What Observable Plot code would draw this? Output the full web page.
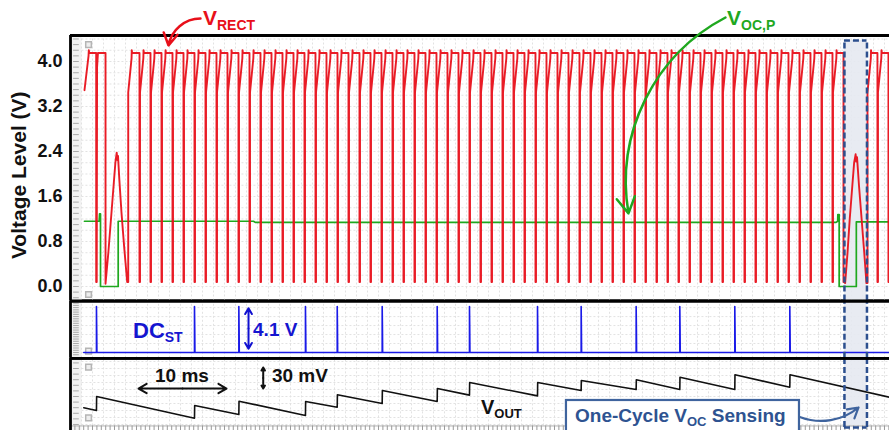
<!DOCTYPE html>
<html><head><meta charset="utf-8">
<script src="https://cdn.jsdelivr.net/npm/d3@7"></script>
<script src="https://cdn.jsdelivr.net/npm/@observablehq/plot@0.6"></script>
<style>
body{margin:0;background:#fff;}
#chart{position:relative;width:889px;height:430px;overflow:hidden;background:#fff;}
#chart svg{position:absolute;left:0;overflow:visible;}
</style></head><body><div id="chart"></div>
<script>
// ---------------- DATA (time in ms, voltages in V, V_OUT in mV) ----------------
const X_MAX = 93.07;
const yTicks = [0.0, 0.8, 1.6, 2.4, 3.2, 4.0];

// V_RECT: leading part, humps, regular drop instants, pulse top shape
const vrectLead = [[1.59,3.49],[2.05,4.10],[2.08,4.20],[2.14,4.15],[2.92,4.15],[2.92,0.08],[2.98,0.08],[3.02,3.90],[3.12,4.15],[3.98,4.15],[3.98,0.05]];
const vrectHump1 = [[4.30,0.60],[4.60,1.20],[4.90,1.80],[5.10,2.20],[5.25,2.38],[5.33,2.25],[5.40,2.32],[5.55,1.90],[5.80,1.30],[6.10,0.70],[6.44,0.08],[6.56,0.08]];
const vrectDrops1 = [7.84,9.09,10.34,11.59,12.84,14.09,15.34,16.59,17.84,19.09,20.34,21.59,22.84,24.09,25.34,26.59,27.84,29.09,30.34,31.59,32.84,34.09,35.34,36.59,37.84,39.09,40.34,41.59,42.84,44.09,45.34,46.59,47.84,49.09,50.34,51.59,52.84,54.09,55.34,56.59,57.84,59.09,60.34,61.59,62.84,64.09,65.34,66.59,67.84,69.09,70.34,71.59,72.84,74.09,75.34,76.59,77.84,79.09,80.34,81.59,82.84,84.09,85.34,86.59,87.84];
const vrectHump2 = [[88.03,0.06],[88.30,0.60],[88.55,1.20],[88.85,1.80],[89.05,2.20],[89.22,2.35],[89.30,2.22],[89.38,2.30],[89.60,1.80],[89.90,1.20],[90.20,0.60],[90.45,0.06],[90.57,0.06]];
const vrectDrops2 = [91.70, 92.95];
const pulseTop = [[0,3.45],[0.38,4.06],[0.40,4.20],[0.45,4.15]];
const vrectTop = 4.15, vrectLow = 0.08;

// V_OC,P
const vocpT = [1.59,3.26,3.30,3.41,3.41,5.42,5.42,20.8,21.0,87.0,87.18,87.20,87.35,87.35,89.30,89.30,93.07];
const vocpV = [1.16,1.16,1.29,1.29,0.00,0.00,1.16,1.16,1.14,1.14,1.16,1.28,1.28,0.00,0.00,1.15,1.15];

// DC_ST spikes (= V_OUT charge instants)
const chargeT = [2.95,14.09,19.13,26.70,30.31,35.42,41.67,45.34,53.07,58.03,64.28,69.24,75.49,81.74];
const dcHigh = 4.1;
const dcStart = 1.51;

// V_OUT sawtooth (mV): value just before and just after each charge
const voutStart = [1.51, 3.9];
const voutBefore = [0.0,-11.0,-5.7,-7.1,4.7,10.0,12.9,22.0,20.9,28.6,30.0,30.0,30.0,33.3];
const voutAfter  = [20.0,7.1,13.3,12.9,22.4,28.6,31.4,40.0,40.0,42.9,43.9,47.5,51.0,51.0];
const voutEnd = [93.07, 19.0];

// sensing window
const win = {x1: 87.95, x2: 90.51};

// ---------------- build series ----------------
const vrect = [];
const push = (t, v) => vrect.push({t, v});
vrectLead.forEach(([t, v]) => push(t, v));
vrectHump1.forEach(([t, v]) => push(t, v));
function pulses(start, drops) {
  let s = start;
  for (const d of drops) {
    pulseTop.forEach(([dt, v]) => push(s + dt, v));
    push(d, vrectTop); push(d, vrectLow); push(d + 0.06, vrectLow);
    s = d + 0.06;
  }
  return s;
}
pulses(6.56, vrectDrops1);
vrectHump2.forEach(([t, v]) => push(t, v));
let s2 = pulses(90.57, vrectDrops2);
pulseTop.forEach(([dt, v]) => push(s2 + dt, v));
push(X_MAX + 2, vrectTop);

const vocp = vocpT.map((t, i) => ({t, v: vocpV[i]}));

const dc = [{t: dcStart, v: 0}];
chargeT.forEach(t => { dc.push({t, v: 0}, {t, v: dcHigh}, {t: t + 0.03, v: 2.0}, {t: t + 0.05, v: 0}); });
dc.push({t: X_MAX + 1, v: 0});

const vout = [{t: voutStart[0], v: voutStart[1]}];
chargeT.forEach((t, i) => { vout.push({t, v: voutBefore[i]}, {t: t + 0.02, v: voutAfter[i]}); });
vout.push({t: voutEnd[0], v: voutEnd[1]});

// ---------------- style ----------------
const FONT = 'Arial, "Liberation Sans", sans-serif';
const RED = "#e8101a", GREEN = "#1fa81f", BLUE = "#1a1ae8", WIN = "#2c4f8e", BOX = "#3f649e";
const GRID = "#e2e2e2";
const xDomain = [0, X_MAX];
const gridT = d3.range(1.25, X_MAX, 1.25);
const baseStyle = {background: "transparent", overflow: "visible", fontFamily: FONT};

function label(plot, x, y, parts, color) {
  const sx = plot.scale("x"), sy = plot.scale("y");
  const t = d3.select(plot).append("text")
    .attr("x", sx.apply(x)).attr("y", sy.apply(y))
    .attr("text-anchor", "start")
    .attr("fill", color).attr("font-weight", "bold").attr("font-family", FONT);
  parts.forEach(p => {
    const ts = t.append("tspan").text(p.t).attr("font-size", p.size);
    if (p.dy) ts.attr("dy", p.dy);
  });
}

// ---------------- top panel ----------------
const topY = [-0.258, 4.462];
const topPlot = Plot.plot({
  width: 889, height: 302,
  marginLeft: 70, marginRight: 0, marginTop: 35, marginBottom: 1.5,
  x: {domain: xDomain, axis: null},
  y: {domain: topY, axis: null},
  style: baseStyle,
  marks: [
    Plot.rect([{a: 0, b: 1.3}], {x1: "a", x2: "b", y1: topY[0], y2: topY[1], fill: "#f2f2f2"}),
    Plot.ruleX(gridT, {stroke: GRID, strokeDasharray: "2,2", y1: topY[0], y2: topY[1]}),
    Plot.ruleY(d3.range(0, 4.45, 0.2), {stroke: GRID, strokeDasharray: "2,2", x1: 1.3, x2: X_MAX}),
    Plot.ruleY(d3.range(-0.2, 4.45, 0.1), {x1: 0.35, x2: 1.0, stroke: "#a8a8a8"}),
    Plot.rect([win], {x1: "x1", x2: "x2", y1: topY[0], y2: 4.373, fill: "#e6e9f1", fillOpacity: 0.9}),
    Plot.line(vocp, {x: "t", y: "v", stroke: GREEN, strokeWidth: 1.7}),
    Plot.line(vrect, {x: "t", y: "v", stroke: RED, strokeWidth: 1.9, strokeOpacity: 0.95}),
    Plot.ruleX([win.x1, win.x2], {y1: topY[0], y2: 4.373, stroke: WIN, strokeWidth: 2.5, strokeDasharray: "6,3"}),
    Plot.ruleY([4.373], {x1: win.x1, x2: win.x2, stroke: WIN, strokeWidth: 2.5, strokeDasharray: "6,3"}),
    Plot.dot([{t: 2.05, v: 4.30}, {t: 2.05, v: -0.142}], {x: "t", y: "v", symbol: "square", r: 3.2, fill: "#eee", stroke: "#b5b5b5"}),
    Plot.ruleY([topY[1], topY[0]], {stroke: "#000", strokeWidth: 2.8}),
    Plot.ruleX([0], {stroke: "#000", strokeWidth: 2.8}),
    Plot.axisY(yTicks, {tickSize: 0, tickPadding: 8, fontSize: 18, fontWeight: "bold", tickFormat: d => d.toFixed(1), label: null, fill: "#111"}),
    Plot.text(["Voltage Level (V)"], {frameAnchor: "left", dx: -51, dy: 7, rotate: -90, textAnchor: "middle", fontSize: 21, fontWeight: "bold", fill: "#111"}),
    Plot.arrow([{x1: 14.77, y1: 4.764, x2: 11.14, y2: 4.284}], {x1: "x1", y1: "y1", x2: "x2", y2: "y2", bend: -40, stroke: RED, strokeWidth: 2.5, headLength: 10}),
    Plot.arrow([{x1: 74.43, y1: 4.782, x2: 63.41, y2: 1.30}], {x1: "x1", y1: "y1", x2: "x2", y2: "y2", bend: -36, stroke: GREEN, strokeWidth: 2.5, headLength: 11})
  ]
});
label(topPlot, 15.11, 4.64, [{t: "V", size: 21}, {t: "RECT", size: 14, dy: 5}], RED);
label(topPlot, 74.66, 4.64, [{t: "V", size: 21}, {t: "OC,P", size: 14, dy: 5}], GREEN);

// ---------------- DC_ST panel ----------------
const dcY = [-0.517, 4.59];
const midPlot = Plot.plot({
  width: 889, height: 60,
  marginLeft: 70, marginRight: 0, marginTop: 0.5, marginBottom: 2.2,
  x: {domain: xDomain, axis: null},
  y: {domain: dcY, axis: null},
  style: baseStyle,
  marks: [
    Plot.rect([{a: 0, b: 1.3}], {x1: "a", x2: "b", y1: dcY[0], y2: dcY[1], fill: "#f2f2f2"}),
    Plot.ruleX(gridT, {stroke: GRID, strokeDasharray: "2,2", y1: dcY[0], y2: dcY[1]}),
    Plot.ruleY(d3.range(0, 4.6, 0.8), {stroke: GRID, strokeDasharray: "2,2", x1: 1.3, x2: X_MAX}),
    Plot.ruleY(d3.range(-0.2, 4.6, 0.2), {x1: 0.35, x2: 1.0, stroke: "#a8a8a8"}),
    Plot.rect([win], {x1: "x1", x2: "x2", y1: dcY[0], y2: dcY[1], fill: "#e6e9f1", fillOpacity: 0.9}),
    Plot.dot([{t: 2.05, v: 0.12}], {x: "t", y: "v", symbol: "square", r: 3.2, fill: "#eee", stroke: "#b5b5b5"}),
    Plot.line(dc, {x: "t", y: "v", stroke: BLUE, strokeWidth: 1.6}),
    Plot.ruleX([win.x1, win.x2], {y1: dcY[0], y2: dcY[1], stroke: WIN, strokeWidth: 2.5, strokeDasharray: "6,3"}),
    Plot.ruleY([dcY[1], dcY[0]], {stroke: "#000", strokeWidth: 2.8}),
    Plot.ruleX([0], {stroke: "#000", strokeWidth: 2.8}),
    Plot.arrow([{x1: 20.23, y1: 2.14, x2: 20.23, y2: 3.95}, {x1: 20.23, y1: 2.14, x2: 20.23, y2: 0.33}], {x1: "x1", y1: "y1", x2: "x2", y2: "y2", stroke: "#1010d0", strokeWidth: 2, headLength: 7})
  ]
});
label(midPlot, 7.16, 1.25, [{t: "DC", size: 22}, {t: "ST", size: 14, dy: 4}], "#1515d0");
label(midPlot, 20.80, 1.40, [{t: "4.1 V", size: 19}], "#1515d0");

// ---------------- V_OUT panel ----------------
const boY = [-28.6, 74.6];
const botPlot = Plot.plot({
  width: 889, height: 73,
  marginLeft: 70, marginRight: 0, marginTop: 0.8, marginBottom: 0,
  x: {domain: xDomain, axis: null},
  y: {domain: boY, axis: null},
  style: baseStyle,
  marks: [
    Plot.rect([{a: 0, b: 1.3}], {x1: "a", x2: "b", y1: boY[0], y2: boY[1], fill: "#f2f2f2"}),
    Plot.ruleX(gridT, {stroke: GRID, strokeDasharray: "2,2", y1: -22, y2: boY[1]}),
    Plot.ruleY(d3.range(-20, 75, 10), {stroke: GRID, strokeDasharray: "2,2", x1: 1.3, x2: X_MAX}),
    Plot.ruleY(d3.range(-20, 75, 8), {x1: 0.35, x2: 1.0, stroke: "#a8a8a8"}),
    Plot.rect([win], {x1: "x1", x2: "x2", y1: -24.3, y2: boY[1], fill: "#e6e9f1", fillOpacity: 0.9}),
    Plot.dot([{t: 2.05, v: 61.9}, {t: 2.05, v: -10.5}], {x: "t", y: "v", symbol: "square", r: 3.2, fill: "#eee", stroke: "#b5b5b5"}),
    Plot.ruleY([-22.1], {x1: 0, x2: X_MAX, stroke: "#b0b0b0"}),
    Plot.ruleX(d3.range(0.5, X_MAX, 0.5), {y1: -22.1, y2: -28.6, stroke: "#9a9a9a"}),
    Plot.line(vout, {x: "t", y: "v", stroke: "#111", strokeWidth: 1.6}),
    Plot.ruleX([win.x1, win.x2], {y1: -24.3, y2: boY[1], stroke: WIN, strokeWidth: 2.5, strokeDasharray: "6,3"}),
    Plot.ruleY([-24.3], {x1: win.x1, x2: win.x2, stroke: WIN, strokeWidth: 2.5, strokeDasharray: "6,3"}),
    Plot.ruleY([boY[1]], {stroke: "#000", strokeWidth: 2.8}),
    Plot.ruleX([0], {stroke: "#000", strokeWidth: 2.8}),
    Plot.rect([{a: 56.36, b: 82.84}], {x1: "a", x2: "b", y1: 14.3, y2: -45, fill: "#fff", stroke: BOX, strokeWidth: 2.2}),
    Plot.arrow([{x1: 12.73, y1: 31.4, x2: 7.73, y2: 31.4}, {x1: 12.73, y1: 31.4, x2: 17.73, y2: 31.4}], {x1: "x1", y1: "y1", x2: "x2", y2: "y2", stroke: "#111", strokeWidth: 2, headLength: 7}),
    Plot.arrow([{x1: 21.9, y1: 46.4, x2: 21.9, y2: 61.4}, {x1: 21.9, y1: 46.4, x2: 21.9, y2: 31.4}], {x1: "x1", y1: "y1", x2: "x2", y2: "y2", stroke: "#111", strokeWidth: 2, headLength: 6}),
    Plot.arrow([{x1: 82.95, y1: -9.6, x2: 89.55, y2: 4.3}], {x1: "x1", y1: "y1", x2: "x2", y2: "y2", bend: -30, stroke: BOX, strokeWidth: 2.2, headLength: 8})
  ]
});
label(botPlot, 9.66, 40, [{t: "10 ms", size: 19}], "#111");
label(botPlot, 22.95, 40, [{t: "30 mV", size: 19}], "#111");
label(botPlot, 46.7, -5.7, [{t: "V", size: 20}, {t: "OUT", size: 13, dy: 4}], "#111");
label(botPlot, 57.39, -17.1, [{t: "One-Cycle V", size: 19}, {t: "OC", size: 13, dy: 4}, {t: " Sensing", size: 19, dy: -4}], "#2e5391");

const chart = document.getElementById("chart");
[[topPlot, 0, 3], [midPlot, 300, 2], [botPlot, 357, 1]].forEach(([svg, y, z]) => { svg.style.top = y + "px"; svg.style.zIndex = z; chart.appendChild(svg); });
</script></body></html>
